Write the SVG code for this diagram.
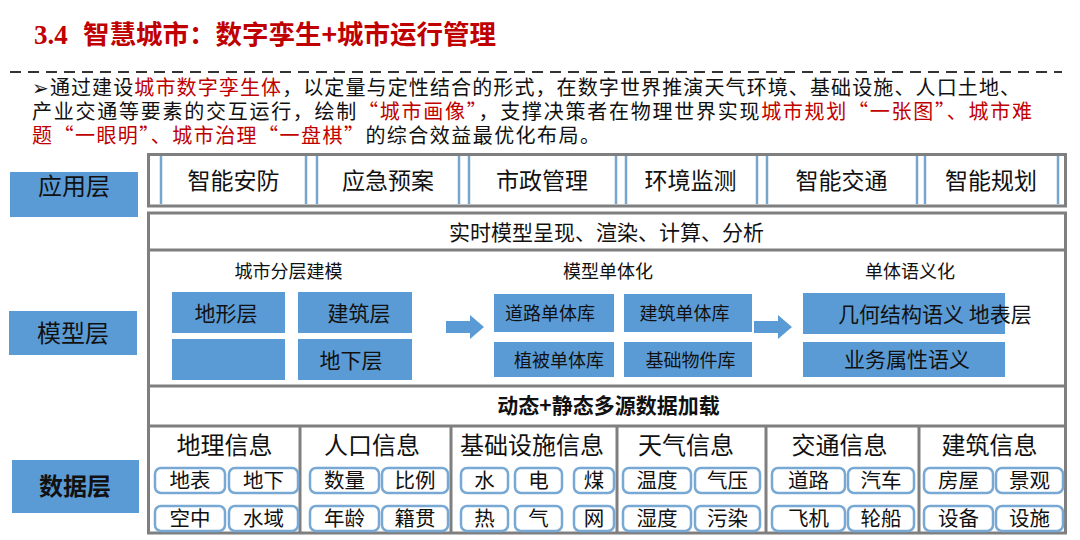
<svg xmlns="http://www.w3.org/2000/svg" width="1080" height="540" viewBox="0 0 1080 540">
<style>
text{font-family:"Noto Sans CJK SC","DejaVu Sans",sans-serif;fill:#111}
.c{text-anchor:middle}
.red{fill:#C00000}
.frame{fill:#fff;stroke:#7F7F7F;stroke-width:3}
.gl{stroke:#7F7F7F;stroke-width:3}
.sep{stroke:#76A5CE;stroke-width:2.5}
.blue{fill:#5B9BD5}
.chip{fill:#fff;stroke:#78A9D4;stroke-width:2.5}
.app{font-size:23px}
.hd{font-size:24px}
.ch{font-size:20.5px}
.lbl{font-size:24px}
.sub{font-size:18px}
.bx{font-size:21px}
.sm{font-size:18px}
</style>
<defs>
<path id="arr" d="M0,-6 H24 V-12 L38,0 L24,12 V6 H0 Z"/>
</defs>

<g id="title">
<text x="34" y="44" font-family="Liberation Serif" font-weight="bold" font-size="27" class="red" style="font-family:'Liberation Serif',serif">3.4</text>
<text x="83" y="44" font-size="26.5" font-weight="bold" class="red" textLength="413" lengthAdjust="spacingAndGlyphs">智慧城市：数字孪生+城市运行管理</text>
<line x1="10" y1="72" x2="1062" y2="72" stroke="#333" stroke-width="2" stroke-dasharray="11 7"/>
</g>

<g id="intro" font-size="20">
<text x="32" y="95" textLength="988" lengthAdjust="spacing">➢通过建设<tspan class="red">城市数字孪生体</tspan>，以定量与定性结合的形式，在数字世界推演天气环境、基础设施、人口土地、</text>
<text x="32" y="119" textLength="1000" lengthAdjust="spacing">产业交通等要素的交互运行，绘制<tspan class="red">“城市画像”</tspan>，支撑决策者在物理世界实现<tspan class="red">城市规划“一张图”、城市难</tspan></text>
<text x="32" y="143" textLength="568" lengthAdjust="spacing"><tspan class="red">题“一眼明”、城市治理“一盘棋”</tspan>的综合效益最优化布局。</text>
</g>

<g id="layer-labels">
<g id="label-app"><rect x="10" y="172" width="128" height="45" class="blue"/><text x="74" y="194.5" class="c lbl">应用层</text></g>
<g id="label-model"><rect x="9" y="311" width="128" height="44" class="blue"/><text x="73" y="341.5" class="c lbl">模型层</text></g>
<g id="label-data"><rect x="12" y="460" width="127" height="53" class="blue"/><text x="75" y="494.5" class="c lbl" font-weight="bold">数据层</text></g>
</g>

<g id="app-layer">
<rect x="148.5" y="154.5" width="917" height="51.5" class="frame"/>
<g class="sep">
<line x1="161" y1="156" x2="161" y2="204"/><line x1="306" y1="156" x2="306" y2="204"/>
<line x1="317" y1="156" x2="317" y2="204"/><line x1="459" y1="156" x2="459" y2="204"/>
<line x1="469" y1="156" x2="469" y2="204"/><line x1="616" y1="156" x2="616" y2="204"/>
<line x1="626" y1="156" x2="626" y2="204"/><line x1="757" y1="156" x2="757" y2="204"/>
<line x1="767" y1="156" x2="767" y2="204"/><line x1="917" y1="156" x2="917" y2="204"/>
<line x1="925" y1="156" x2="925" y2="204"/><line x1="1058" y1="156" x2="1058" y2="204"/>
</g>
<g id="app-1"><text x="233.5" y="188.5" class="c app">智能安防</text></g>
<g id="app-2"><text x="388" y="188.5" class="c app">应急预案</text></g>
<g id="app-3"><text x="542" y="188.5" class="c app">市政管理</text></g>
<g id="app-4"><text x="690.5" y="188.5" class="c app">环境监测</text></g>
<g id="app-5"><text x="841.5" y="188.5" class="c app">智能交通</text></g>
<g id="app-6"><text x="991" y="188.5" class="c app">智能规划</text></g>
</g>

<g id="model-layer">
<rect x="148.5" y="213" width="917" height="320" class="frame"/>
<line x1="148.5" y1="250" x2="1065.5" y2="250" class="gl"/>
<line x1="148.5" y1="386" x2="1065.5" y2="386" class="gl"/>
<line x1="148.5" y1="426" x2="1065.5" y2="426" class="gl"/>
<g id="render-row"><text x="606.5" y="239.5" class="c bx">实时模型呈现、渲染、计算、分析</text></g>

<g id="layered-modeling">
<text x="288.5" y="278" class="c sub">城市分层建模</text>
<g id="terrain"><rect x="172" y="292" width="113" height="41" class="blue"/><text x="226" y="320.5" class="c bx">地形层</text></g>
<g id="blank"><rect x="172" y="339" width="113" height="41" class="blue"/></g>
<g id="building"><rect x="298" y="292" width="114" height="41" class="blue"/><text x="359" y="320.5" class="c bx">建筑层</text></g>
<g id="underground"><rect x="298" y="339" width="114" height="41" class="blue"/><text x="351" y="367.5" class="c bx">地下层</text></g>
</g>

<g id="monomer">
<text x="608" y="278" class="c sub">模型单体化</text>
<g id="road-lib"><rect x="494" y="294" width="120" height="38" class="blue"/><text x="550" y="319.5" class="c sm">道路单体库</text></g>
<g id="veg-lib"><rect x="494" y="342" width="120" height="35" class="blue"/><text x="559" y="366.5" class="c sm">植被单体库</text></g>
<g id="bld-lib"><rect x="624" y="294" width="128" height="38" class="blue"/><text x="684.5" y="319.5" class="c sm">建筑单体库</text></g>
<g id="infra-lib"><rect x="624" y="342" width="128" height="35" class="blue"/><text x="690.5" y="366.5" class="c sm">基础物件库</text></g>
</g>

<g id="semantic">
<text x="910" y="278" class="c sub">单体语义化</text>
<g id="geo-sem"><rect x="803" y="293" width="202" height="41" class="blue"/><text x="838" y="321.5" class="bx">几何结构语义 地表层</text></g>
<g id="biz-sem"><rect x="803" y="342" width="202" height="35" class="blue"/><text x="907" y="367" class="c bx">业务属性语义</text></g>
</g>

<g id="data-load-row"><text x="608.5" y="413" class="c bx" font-weight="bold">动态+静态多源数据加载</text></g>
</g>

<g id="connectors">
<use href="#arr" x="446" y="327" class="blue"/>
<use href="#arr" x="754" y="327" class="blue"/>
</g>

<g id="data-layer">
<g class="gl">
<line x1="300" y1="426" x2="300" y2="533"/>
<line x1="451" y1="426" x2="451" y2="533"/>
<line x1="617" y1="426" x2="617" y2="533"/>
<line x1="766" y1="426" x2="766" y2="533"/>
<line x1="919" y1="426" x2="919" y2="533"/>
</g>
<g id="geo-info">
<text x="224.5" y="453.5" class="c hd">地理信息</text>
<rect x="155" y="468" width="70" height="25" rx="6" class="chip"/><text x="190" y="488" class="c ch">地表</text>
<rect x="229" y="468" width="69" height="25" rx="6" class="chip"/><text x="263.5" y="488" class="c ch">地下</text>
<rect x="155" y="506" width="70" height="25" rx="6" class="chip"/><text x="190" y="526" class="c ch">空中</text>
<rect x="229" y="506" width="69" height="25" rx="6" class="chip"/><text x="263.5" y="526" class="c ch">水域</text>
</g>
<g id="pop-info">
<text x="372" y="453.5" class="c hd">人口信息</text>
<rect x="310" y="468" width="69" height="25" rx="6" class="chip"/><text x="344.5" y="488" class="c ch">数量</text>
<rect x="382" y="468" width="66" height="25" rx="6" class="chip"/><text x="415" y="488" class="c ch">比例</text>
<rect x="310" y="506" width="69" height="25" rx="6" class="chip"/><text x="344.5" y="526" class="c ch">年龄</text>
<rect x="382" y="506" width="66" height="25" rx="6" class="chip"/><text x="415" y="526" class="c ch">籍贯</text>
</g>
<g id="infra-info">
<text x="532" y="453.5" class="c hd">基础设施信息</text>
<rect x="461" y="468" width="47" height="25" rx="6" class="chip"/><text x="484.5" y="488" class="c ch">水</text>
<rect x="515" y="468" width="47" height="25" rx="6" class="chip"/><text x="538.5" y="488" class="c ch">电</text>
<rect x="574" y="468" width="40" height="25" rx="6" class="chip"/><text x="594" y="488" class="c ch">煤</text>
<rect x="461" y="506" width="47" height="25" rx="6" class="chip"/><text x="484.5" y="526" class="c ch">热</text>
<rect x="515" y="506" width="47" height="25" rx="6" class="chip"/><text x="538.5" y="526" class="c ch">气</text>
<rect x="574" y="506" width="40" height="25" rx="6" class="chip"/><text x="594" y="526" class="c ch">网</text>
</g>
<g id="weather-info">
<text x="686" y="453.5" class="c hd">天气信息</text>
<rect x="623" y="468" width="68" height="25" rx="6" class="chip"/><text x="657" y="488" class="c ch">温度</text>
<rect x="695" y="468" width="65" height="25" rx="6" class="chip"/><text x="727.5" y="488" class="c ch">气压</text>
<rect x="623" y="506" width="68" height="25" rx="6" class="chip"/><text x="657" y="526" class="c ch">湿度</text>
<rect x="695" y="506" width="65" height="25" rx="6" class="chip"/><text x="727.5" y="526" class="c ch">污染</text>
</g>
<g id="traffic-info">
<text x="839.5" y="453.5" class="c hd">交通信息</text>
<rect x="772" y="468" width="73" height="25" rx="6" class="chip"/><text x="808.5" y="488" class="c ch">道路</text>
<rect x="848" y="468" width="66" height="25" rx="6" class="chip"/><text x="881" y="488" class="c ch">汽车</text>
<rect x="772" y="506" width="73" height="25" rx="6" class="chip"/><text x="808.5" y="526" class="c ch">飞机</text>
<rect x="848" y="506" width="66" height="25" rx="6" class="chip"/><text x="881" y="526" class="c ch">轮船</text>
</g>
<g id="building-info">
<text x="989.5" y="453.5" class="c hd">建筑信息</text>
<rect x="924" y="468" width="69" height="25" rx="6" class="chip"/><text x="958.5" y="488" class="c ch">房屋</text>
<rect x="996" y="468" width="67" height="25" rx="6" class="chip"/><text x="1029.5" y="488" class="c ch">景观</text>
<rect x="924" y="506" width="69" height="25" rx="6" class="chip"/><text x="958.5" y="526" class="c ch">设备</text>
<rect x="996" y="506" width="67" height="25" rx="6" class="chip"/><text x="1029.5" y="526" class="c ch">设施</text>
</g>
</g>
</svg>
